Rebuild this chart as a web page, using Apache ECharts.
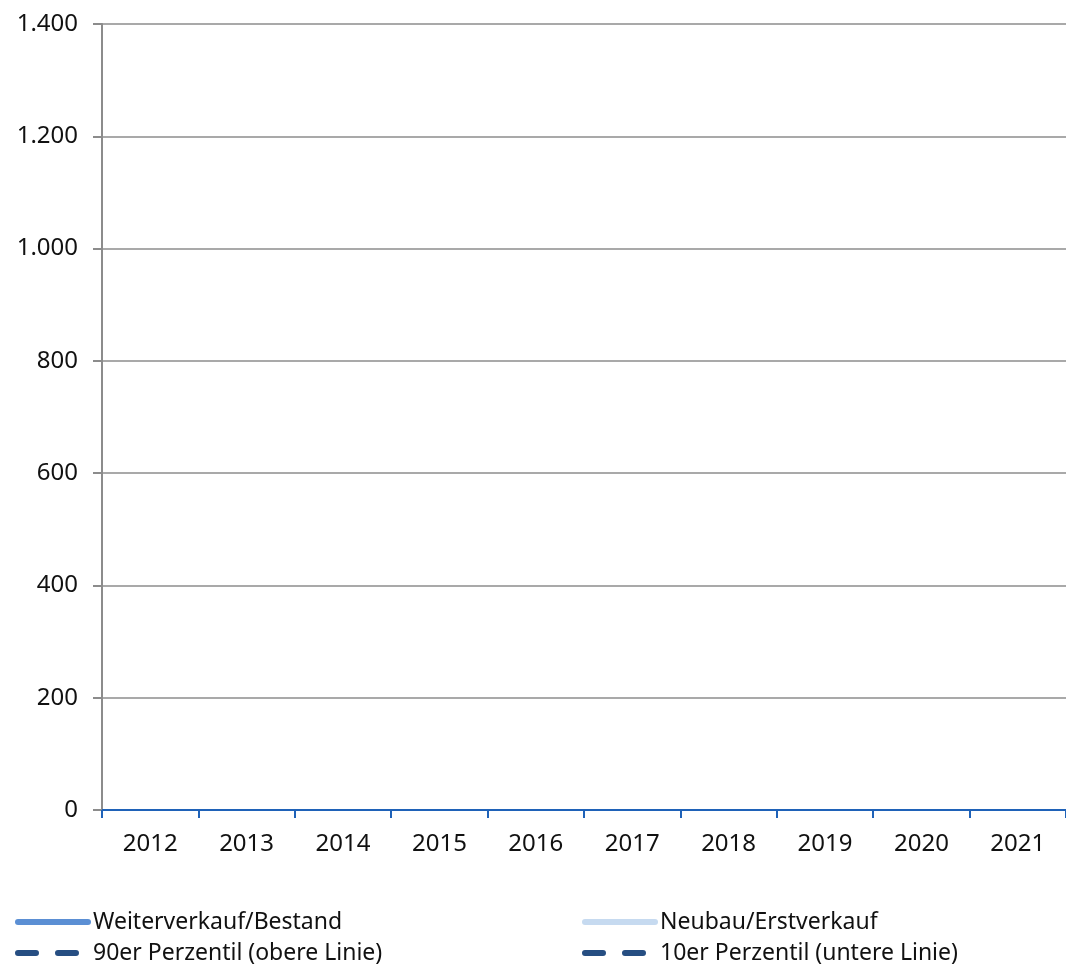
<!DOCTYPE html>
<html><head><meta charset="utf-8">
<script src="https://cdn.jsdelivr.net/npm/echarts@6/dist/echarts.min.js"></script>
<style>html,body{margin:0;padding:0;background:#fff}#c{width:1066px;height:970px}</style>
</head><body><div id="c"></div>
<script>
const years = ['2012','2013','2014','2015','2016','2017','2018','2019','2020','2021'];
const weiterverkauf = [null,null,null,null,null,null,null,null,null,null];
const neubau = [null,null,null,null,null,null,null,null,null,null];
const p90 = [null,null,null,null,null,null,null,null,null,null];
const p10 = [null,null,null,null,null,null,null,null,null,null];
const names = ['Weiterverkauf/Bestand','Neubau/Erstverkauf','90er Perzentil (obere Linie)','10er Perzentil (untere Linie)'];

const FONT = 'Noto Sans';
const chart = echarts.init(document.getElementById('c'));
const legendText = {fontFamily: FONT, fontSize: 23, color: '#111', lineHeight: 28};
const legendCommon = {orient: 'vertical', top: 908, itemGap: 3, itemWidth: 70, itemHeight: 20,
  height: 60, textStyle: legendText, padding: 0,
  itemStyle: {opacity: 0},
  lineStyle: {width: 6, cap: 'round', type: 'inherit'}};
chart.setOption({
  animation: false,
  grid: {left: 102, right: 0, top: 24, bottom: 160, containLabel: false},
  legend: [
    Object.assign({data: [names[0], names[2]], left: 15}, legendCommon),
    Object.assign({data: [names[1], names[3]], left: 582}, legendCommon)
  ],
  xAxis: {
    type: 'category', data: years, boundaryGap: true,
    axisLine: {lineStyle: {color: '#1f62b8', width: 2}},
    axisTick: {show: true, length: 8, lineStyle: {color: '#1f62b8', width: 2}},
    axisLabel: {fontFamily: FONT, fontSize: 24, color: '#111', margin: 22}
  },
  yAxis: {
    type: 'value', min: 0, max: 1400, interval: 200,
    axisLine: {show: true, lineStyle: {color: '#8c8c8c', width: 2}},
    axisTick: {show: true, length: 9, lineStyle: {color: '#8c8c8c', width: 2}},
    splitLine: {lineStyle: {color: '#8c8c8c', width: 1.5}},
    axisLabel: {fontFamily: FONT, fontSize: 24, color: '#111', margin: 24,
      formatter: v => String(v).replace(/\B(?=(\d{3})+(?!\d))/g, '.')}
  },
  series: [
    {name: names[0], type: 'line', data: weiterverkauf, symbol: 'none', lineStyle: {color: '#5b8fd4', width: 6, cap: 'round'}, itemStyle: {color: '#5b8fd4'}},
    {name: names[1], type: 'line', data: neubau, symbol: 'none', lineStyle: {color: '#c6daf0', width: 6, cap: 'round'}, itemStyle: {color: '#c6daf0'}},
    {name: names[2], type: 'line', data: p90, symbol: 'none', lineStyle: {color: '#264e82', width: 6, type: [18, 22], cap: 'round'}, itemStyle: {color: '#264e82'}},
    {name: names[3], type: 'line', data: p10, symbol: 'none', lineStyle: {color: '#264e82', width: 6, type: [18, 22], cap: 'round'}, itemStyle: {color: '#264e82'}}
  ]
});
</script></body></html>
